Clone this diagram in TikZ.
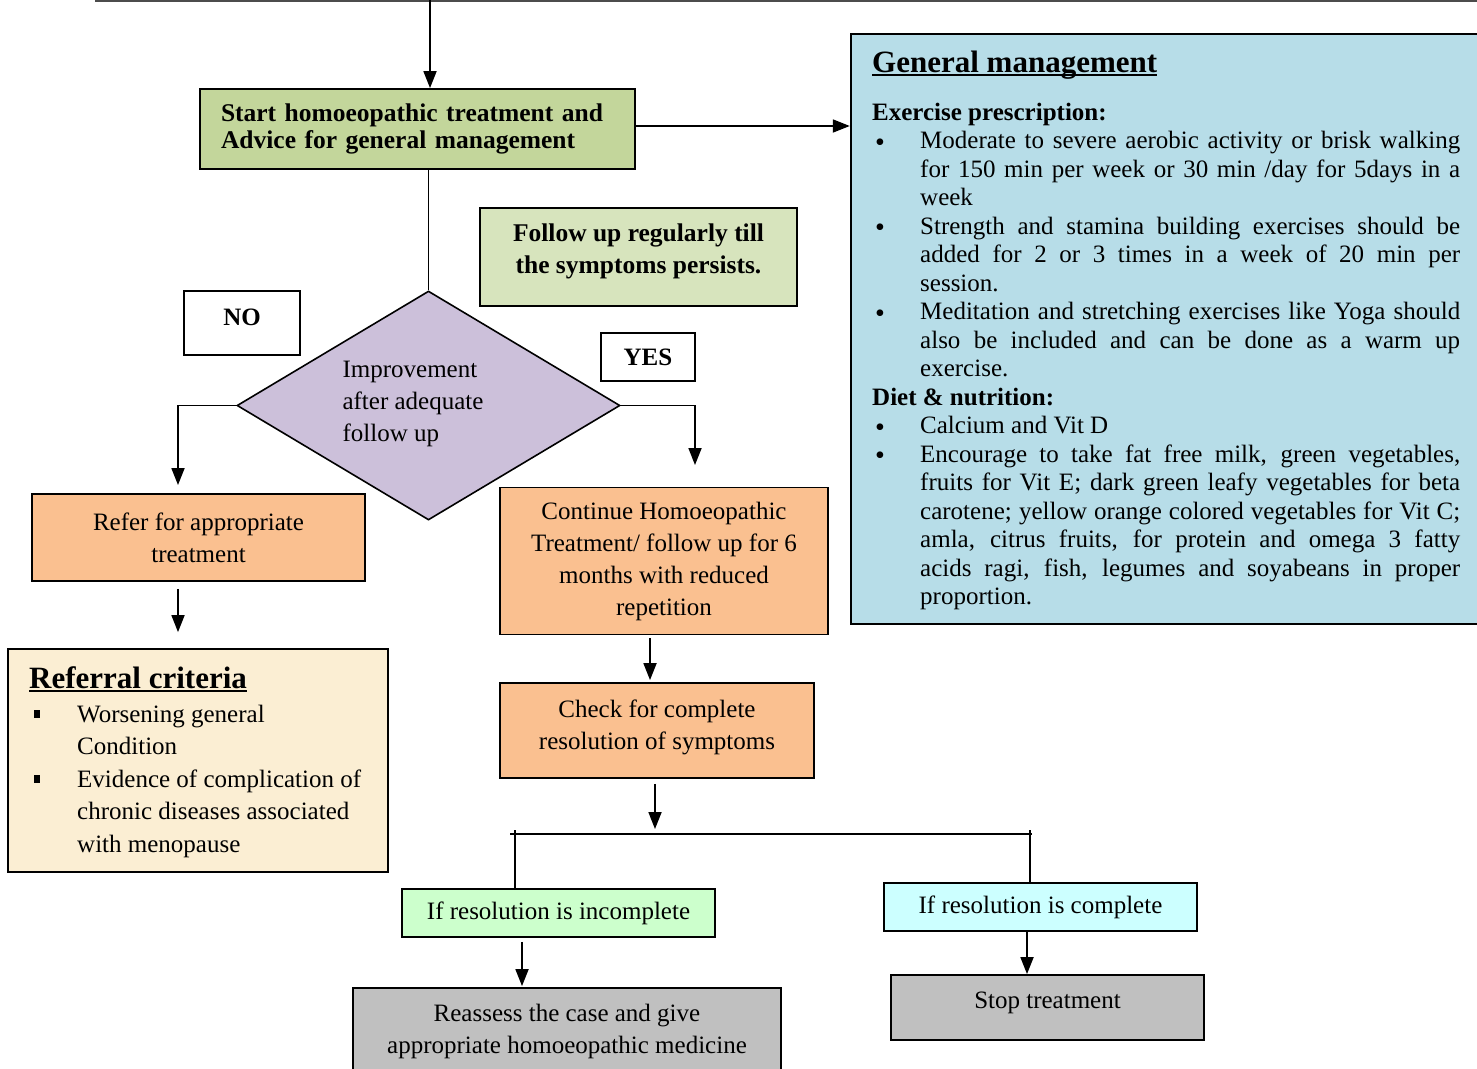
\documentclass[tikz,border=0pt]{standalone}
\usepackage{fontspec}
\setmainfont{Liberation Serif}
\usetikzlibrary{arrows.meta,shapes.geometric}

\definecolor{startgreen}{HTML}{C3D69B}
\definecolor{followgreen}{HTML}{D7E4BD}
\definecolor{decpurple}{HTML}{CCC0DA}
\definecolor{steporange}{HTML}{FAC090}
\definecolor{gmblue}{HTML}{B7DDE8}
\definecolor{parchment}{HTML}{FBEED3}
\definecolor{incgreen}{HTML}{CCFFCC}
\definecolor{compcyan}{HTML}{CCFFFF}
\definecolor{endgray}{HTML}{C0C0C0}

% underline that runs just below the baseline
\newcommand\ulbox[1]{\setbox0=\hbox{#1}\rlap{\rule[-4pt]{\wd0}{1.6pt}}\box0}
% bulleted lines of the management panel
\newcommand\gmbul{\makebox[48pt][l]{\hspace{3pt}\smash{\raisebox{-2.5pt}{\fontsize{28}{28}\selectfont\textbullet}}}}
\newcommand\bfirst[1]{\hbox{\gmbul\hbox to 540pt{#1}}}
\newcommand\bnext[1]{\hbox{\hspace{48pt}\hbox to 540pt{#1}}}
\newcommand\blast[1]{\hbox{\hspace{48pt}#1}}
\newcommand\bsingle[1]{\hbox{\gmbul #1}}
% square bullets of the referral list
\newcommand\sqbul{\makebox[43pt][l]{\rule[4pt]{6pt}{8pt}}}
\newcommand\titlefont{\fontsize{31}{36}\selectfont\bfseries}

\begin{document}
\begin{tikzpicture}[x=1pt,y=-1pt,
  body/.style={font=\fontsize{25}{32}\selectfont},
  flowbox/.style={draw, line width=1.8pt, inner sep=0pt, align=center, body},
  lblbox/.style={draw, line width=1.6pt, fill=white, inner sep=0pt, font=\fontsize{25}{30}\selectfont\bfseries},
  conn/.style={line width=1.8pt},
  arr/.style={line width=1.8pt, -{Triangle[length=17pt,width=13pt]}}]

\useasboundingbox (0,0) rectangle (1477,1068);
\fill[white] (0,0) rectangle (1477,1068);
\clip (0,0) rectangle (1477,1068);

% rule along the top edge
\coordinate (ruleL) at (95,1);
\coordinate (ruleR) at (1477,1);
\draw[gray!60!black, line width=1.4pt] (ruleL) -- (ruleR);

% ---- nodes ----
\node[flowbox, fill=startgreen, minimum width=435pt, minimum height=80pt,
      text width=393pt, inner xsep=21pt, align=left,
      font=\fontsize{25.5}{27}\selectfont\bfseries] (start) at (417.5,129)
  {\vspace*{0pt}Start homoeopathic treatment and\\Advice for general management};

\node[flowbox, fill=followgreen, minimum width=317pt, minimum height=98pt, text depth=16pt,
      font=\fontsize{25.5}{32}\selectfont\bfseries] (follow) at (638.5,257)
  {Follow up regularly till\\the symptoms persists.};

\node[diamond, draw, line width=1.6pt, fill=decpurple, minimum width=383pt,
      minimum height=229pt, inner sep=0pt] (dec) at (428.5,405.5) {};
\node[align=left, inner sep=0pt, body] (dectext) at (413,404)
  {Improvement\\after adequate\\follow up};

\node[lblbox, minimum width=116pt, minimum height=64pt, text depth=12pt] (no) at (242,323) {NO};
\node[lblbox, minimum width=94pt, minimum height=48pt] (yes) at (648,357) {YES};

\node[flowbox, fill=steporange, minimum width=333pt, minimum height=87pt] (refer)
  at (198.5,537.5) {Refer for appropriate\\treatment};

\node[flowbox, fill=parchment, minimum width=380pt, minimum height=223pt] (refcrit)
  at (198,760.5) {};
\node[anchor=base west, inner sep=0pt] (rctitle) at (29,688)
  {\titlefont\ulbox{Referral criteria}};
\node[anchor=base west, inner sep=0pt, body] (rcbody) at (34,722)
  {\vtop{\baselineskip=32.5pt
   \hbox{\sqbul Worsening general}
   \hbox{\hspace{43pt}Condition}
   \hbox{\sqbul Evidence of complication of}
   \hbox{\hspace{43pt}chronic diseases associated}
   \hbox{\hspace{43pt}with menopause}}};

\node[flowbox, fill=steporange, minimum width=328pt, minimum height=147pt] (cont)
  at (664,561) {Continue Homoeopathic\\Treatment/ follow up for 6\\months with reduced\\repetition};

\node[flowbox, fill=steporange, minimum width=314pt, minimum height=95pt, text depth=12pt] (check)
  at (657,730.5) {Check for complete\\resolution of symptoms};

\node[flowbox, line width=1.6pt, fill=incgreen, minimum width=313pt, minimum height=48pt] (inc)
  at (558.5,913) {If resolution is incomplete};
\node[flowbox, line width=1.6pt, fill=compcyan, minimum width=313pt, minimum height=48pt] (comp)
  at (1040.5,907) {If resolution is complete};

\node[flowbox, fill=endgray, minimum width=428pt, minimum height=87pt] (reassess)
  at (567,1031.5) {Reassess the case and give\\appropriate homoeopathic medicine};
\node[flowbox, fill=endgray, minimum width=313pt, minimum height=65pt, text depth=14pt] (stop)
  at (1047.5,1007.5) {Stop treatment};

% general management panel
\node[draw, line width=2.4pt, fill=gmblue, minimum width=639pt, minimum height=590pt,
      inner sep=0pt] (gm) at (1170.5,329) {};
\node[anchor=base west, inner sep=0pt] (gmtitle) at (872,72)
  {\titlefont\ulbox{General management}};
\node[anchor=base west, inner sep=0pt, font=\fontsize{25}{28}\selectfont] (gmbody) at (872,120)
  {\vtop{\baselineskip=28.5pt
   \hbox{\bfseries Exercise prescription:}
   \bfirst{Moderate to severe aerobic activity or brisk walking}
   \bnext{for 150 min per week or 30 min /day for 5days in a}
   \blast{week}
   \bfirst{Strength and stamina building exercises should be}
   \bnext{added for 2 or 3 times in a week of 20 min per}
   \blast{session.}
   \bfirst{Meditation and stretching exercises like Yoga should}
   \bnext{also be included and can be done as a warm up}
   \blast{exercise.}
   \hbox{\bfseries Diet \& nutrition:}
   \bsingle{Calcium and Vit D}
   \bfirst{Encourage to take fat free milk, green vegetables,}
   \bnext{fruits for Vit E; dark green leafy vegetables for beta}
   \bnext{carotene; yellow orange colored vegetables for Vit C;}
   \bnext{amla, citrus fruits, for protein and omega 3 fatty}
   \bnext{acids ragi, fish, legumes and soyabeans in proper}
   \blast{proportion.}}};

% ---- connectors ----
\coordinate (topin) at (430,0);
\draw[arr] (topin) -- (topin |- start.north);
\draw[arr] ([yshift=3pt]start.east) -- ([yshift=3pt]start.east -| gm.west);
\draw[conn] (start.south -| dec.north) -- (dec.north);

\coordinate (noEnd) at (178,485);
\draw[arr] (dec.west) -| (noEnd);
\coordinate (yesEnd) at (695,465);
\draw[arr] (dec.east) -| (yesEnd);

\draw[arr, shorten <=7pt, shorten >=16pt] (refer.south -| noEnd) -- (refcrit.north -| noEnd);
\draw[arr, shorten <=3pt, shorten >=2pt] ([xshift=-14pt]cont.south) -- ([xshift=-14pt]cont.south |- check.north);

\coordinate (barL) at (510,834);
\coordinate (barR) at (1032,834);
\draw[arr, shorten <=5pt, shorten >=5pt] ([xshift=-2pt]check.south) -- ([xshift=-2pt]check.south |- barL);
\draw[conn, line width=1.5pt] (barL) -- (barR);
\coordinate (incTop) at (515,830);
\coordinate (compTop) at (1030,830);
\draw[conn, line width=1.5pt] (incTop) -- (incTop |- inc.north);
\draw[conn, line width=1.5pt] (compTop) -- (compTop |- comp.north);

\draw[arr, shorten <=4pt, shorten >=1pt] ([xshift=-36.5pt]inc.south) -- ([xshift=-36.5pt]inc.south |- reassess.north);
\draw[arr] ([xshift=-13.5pt]comp.south) -- ([xshift=-13.5pt]comp.south |- stop.north);

\end{tikzpicture}
\end{document}
